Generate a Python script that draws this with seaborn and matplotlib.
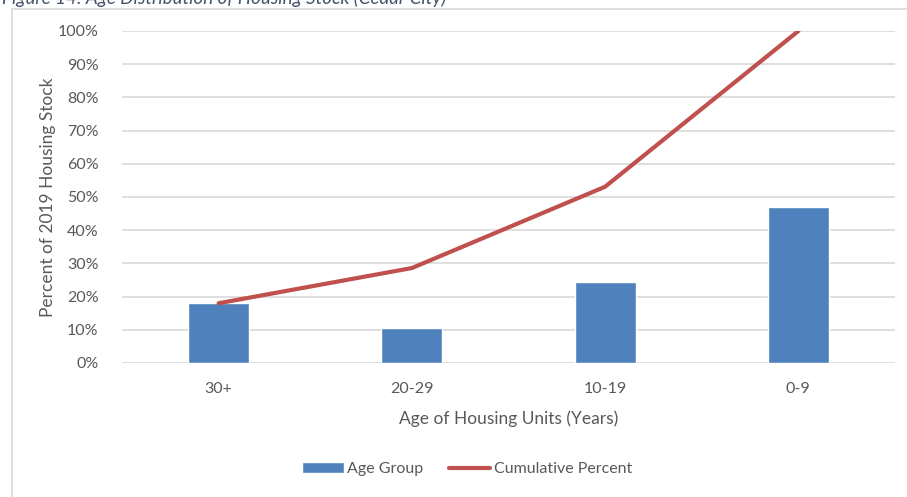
import numpy as np
import pandas as pd
import seaborn as sns
import matplotlib.pyplot as plt
from matplotlib.patches import Rectangle, Patch
from matplotlib.lines import Line2D
from matplotlib.ticker import PercentFormatter

# chart data
age_groups = ["30+", "20-29", "10-19", "0-9"]
share = [18.0, 10.6, 24.5, 46.9]
cumulative = [18.0, 28.6, 53.1, 100.0]
y_ticks = list(range(0, 101, 10))

df = pd.DataFrame({"age": age_groups, "share": share, "cum": cumulative})

bar_color = "#4F81BD"
line_color = "#C0504D"
grid_color = "#D9D9D9"
text_color = "#595959"

sns.set_style("white")
plt.rcParams["font.family"] = ["Lato", "DejaVu Sans"]

fig = plt.figure(figsize=(9.07, 4.97), dpi=100)
ax = fig.add_axes([122 / 907, 1 - 363 / 497, (895 - 122) / 907, (363 - 31) / 497])

# chart border like the office chart frame
fig.patches.append(Rectangle((12 / 907, -0.01), 1.0, 1 - 9 / 497 + 0.01,
                             transform=fig.transFigure, fill=False,
                             edgecolor=grid_color, linewidth=1.2))

# caption of the page, cut off at the top like in the source
fig.text(2 / 907, 1 - 4 / 497, "Figure 14: Age Distribution of Housing Stock (Cedar City)",
         color="#44546A", fontsize=13.5, style="italic", va="baseline", ha="left")

sns.barplot(data=df, x="age", y="share", color=bar_color, width=0.315,
            saturation=1, ax=ax, zorder=2)
sns.lineplot(x=np.arange(len(age_groups)), y=df["cum"], color=line_color,
             linewidth=3, ax=ax, zorder=3)

ax.set_ylim(0, 100)
ax.set_xlim(-0.5, len(age_groups) - 0.5)
ax.set_yticks(y_ticks)
ax.yaxis.set_major_formatter(PercentFormatter(decimals=0))
ax.grid(axis="y", color=grid_color, linewidth=1.2, zorder=0)
ax.set_axisbelow(True)
for s in ax.spines.values():
    s.set_visible(False)
ax.tick_params(axis="both", length=0, labelsize=11.5, colors=text_color)
ax.tick_params(axis="x", pad=14)
ax.tick_params(axis="y", pad=17)

ax.set_xlabel("Age of Housing Units (Years)", fontsize=12.5, color=text_color, labelpad=10)
ax.set_ylabel("Percent of 2019 Housing Stock", fontsize=12.5, color=text_color)
ax.yaxis.set_label_coords((56 - 122) / 773, 0.5)

handles = [Patch(facecolor=bar_color, label="Age Group"),
           Line2D([0], [0], color=line_color, linewidth=3, label="Cumulative Percent")]
leg = fig.legend(handles=handles, loc="center", bbox_to_anchor=(467 / 907, 1 - 469 / 497),
                 ncol=2, frameon=False, fontsize=11.5, handlelength=2.6,
                 handletextpad=0.2, columnspacing=1.6)
for t in leg.get_texts():
    t.set_color(text_color)

fig.savefig("out.png", dpi=100)
